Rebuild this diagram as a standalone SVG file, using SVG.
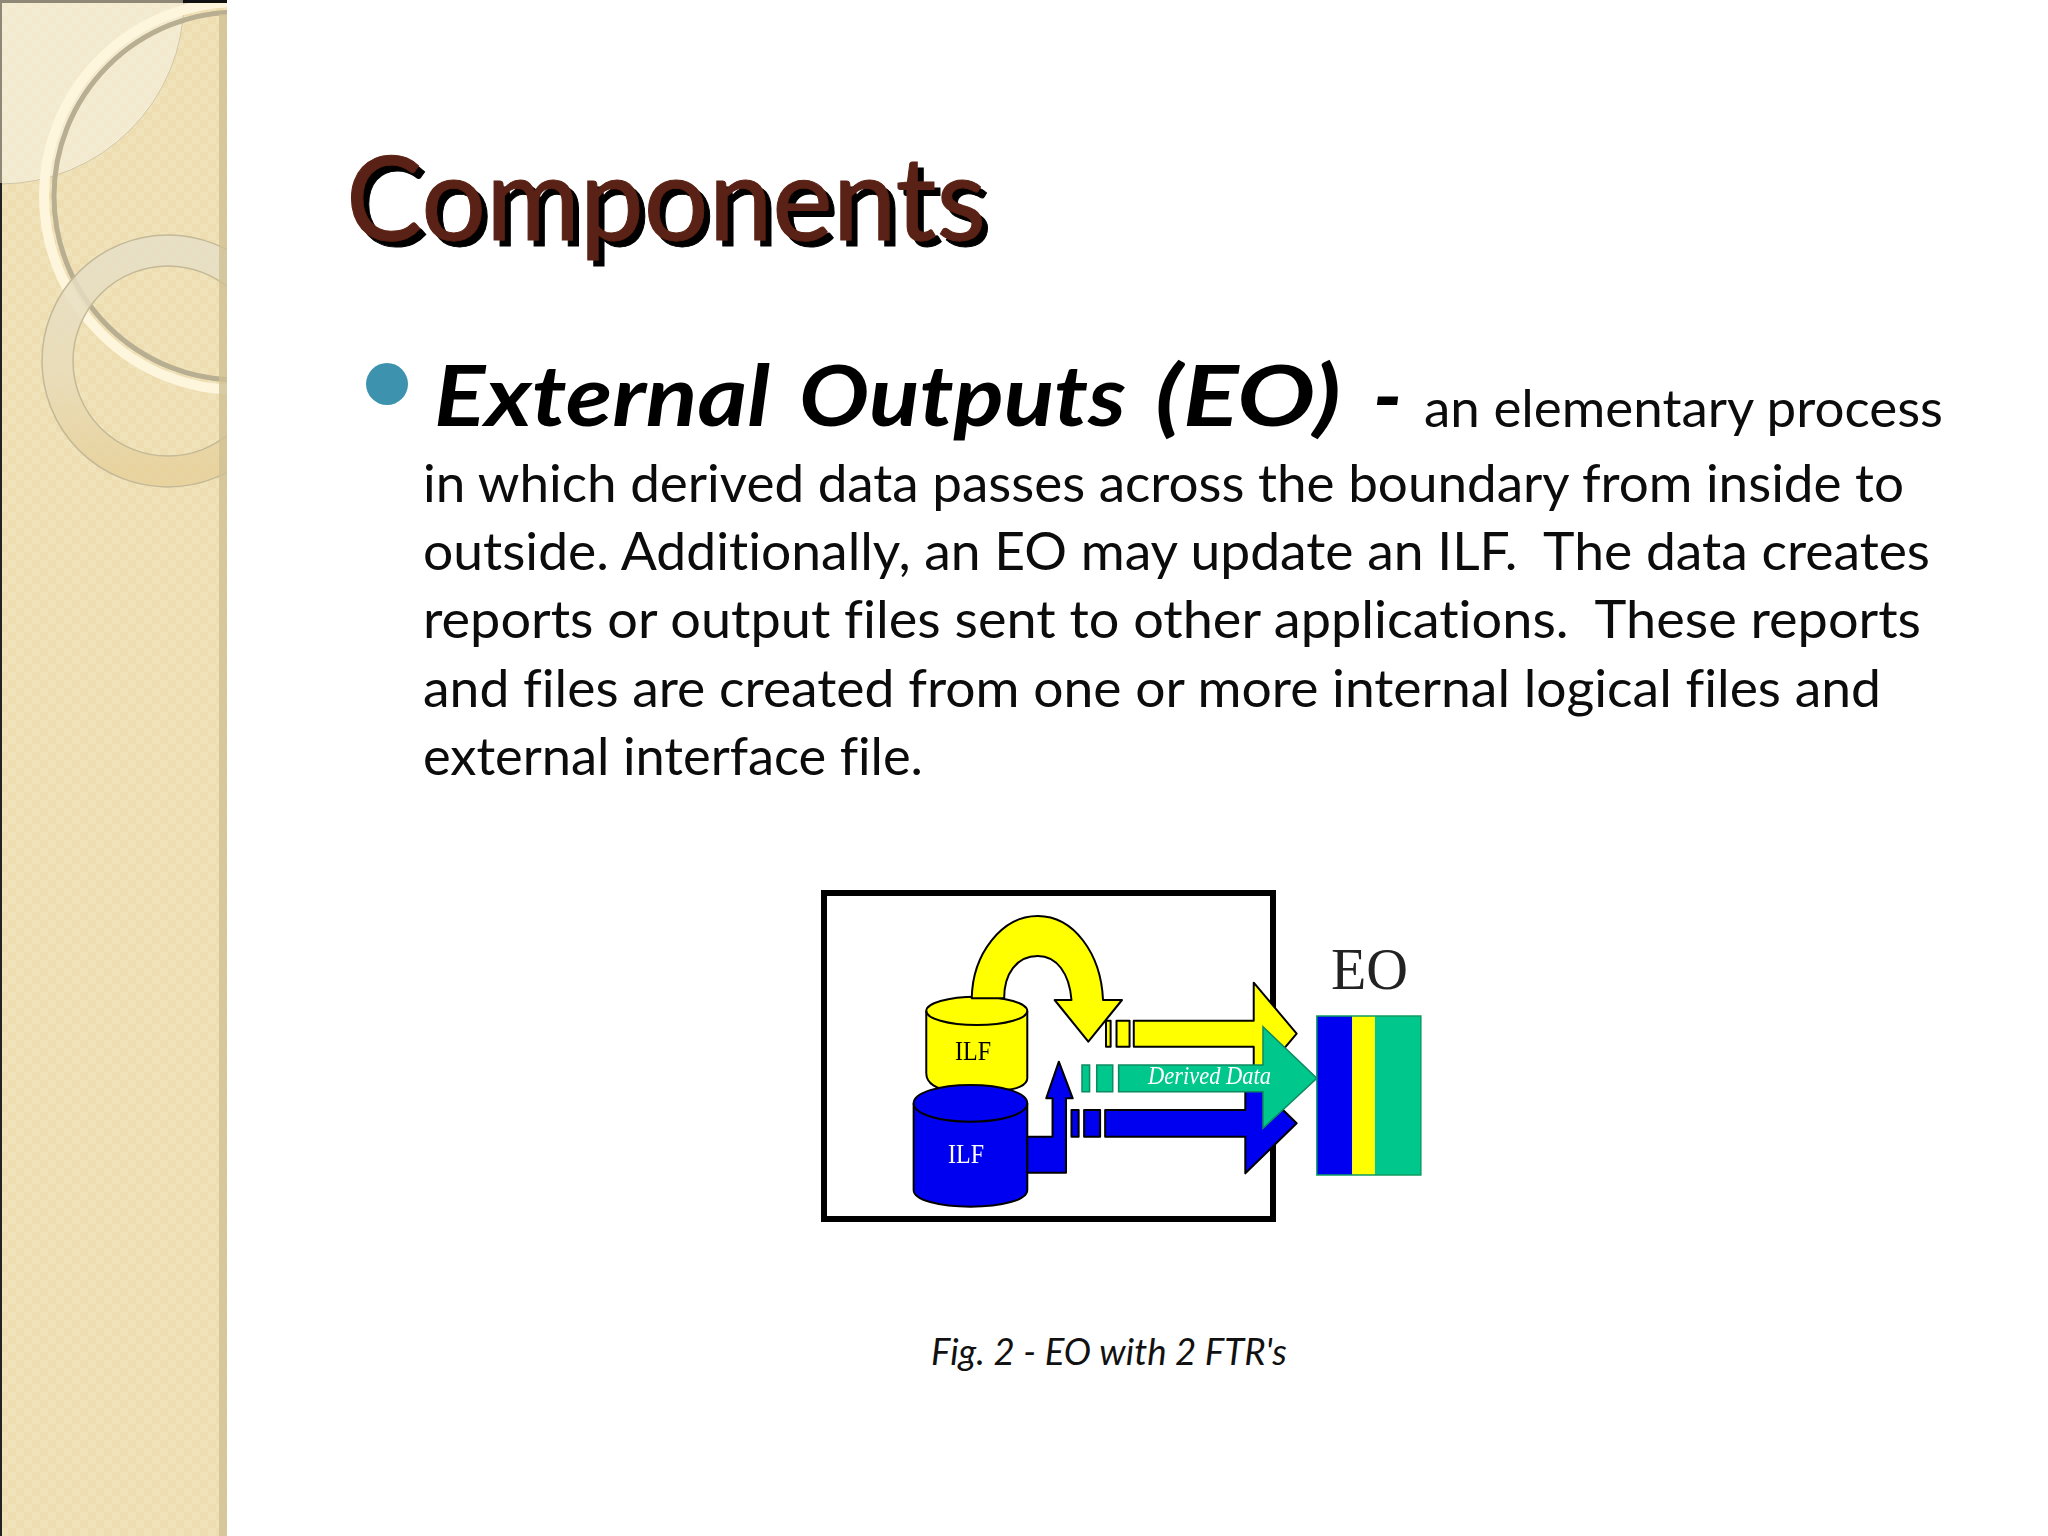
<svg xmlns="http://www.w3.org/2000/svg" width="2048" height="1536" viewBox="0 0 2048 1536">
<style>
.s{stroke:#000;stroke-width:2;vector-effect:non-scaling-stroke;stroke-linejoin:round}
.y{fill:#ffff00}.b{fill:#0000f0}.g{fill:#00c88c}
.nf{fill:none}
.gill{font-family:Lato,"Open Sans","Liberation Sans",sans-serif;font-variant-ligatures:none}
.body{font-size:52px;fill:#0c0c0c}
.head{font-size:84px;font-weight:700;font-style:italic;fill:#000}
.serif{font-family:"Liberation Serif",serif}
</style>
<defs>
<pattern id="chk" width="16" height="16" patternUnits="userSpaceOnUse">
<rect width="16" height="16" fill="#f1e3b9"/>
<rect width="8" height="8" fill="#eeddb0"/><rect x="8" y="8" width="8" height="8" fill="#eeddb0"/>
</pattern>
<linearGradient id="ring" x1="0" y1="0" x2="0" y2="1">
<stop offset="0" stop-color="#e6dfc8"/><stop offset=".55" stop-color="#e8dcba"/><stop offset="1" stop-color="#e6d09a"/>
</linearGradient>
<clipPath id="side"><rect width="227" height="1536"/></clipPath>
<filter id="shadow" x="-5%" y="-20%" width="110%" height="140%"><feDropShadow dx="6" dy="6" stdDeviation="0" flood-color="#000"/></filter>
<filter id="soft" x="-2%" y="-2%" width="104%" height="104%"><feGaussianBlur stdDeviation=".6"/></filter>
</defs>
<rect width="2048" height="1536" fill="#fff"/>
<g id="sidebar">
<rect width="227" height="1536" fill="url(#chk)"/>
<g clip-path="url(#side)" filter="url(#soft)">
<circle cx="0" cy="0" r="184" fill="#f6f1e2" fill-opacity=".6" stroke="#cfc6a8" stroke-width="1"/>
<circle cx="238" cy="196" r="194" fill="none" stroke="#fdf6dc" stroke-width="10"/>
<circle cx="238" cy="196" r="184" fill="none" stroke="#b8ae92" stroke-width="5"/>
<circle cx="168" cy="361" r="110.500" fill="none" stroke="url(#ring)" stroke-width="31" opacity=".82"/>
<circle cx="168" cy="361" r="126" fill="none" stroke="#c4b998" stroke-width="1.500"/>
<circle cx="168" cy="361" r="95" fill="none" stroke="#c4b998" stroke-width="1.500"/>
</g>
<rect x="219" y="14" width="8" height="1522" fill="#cfc194" fill-opacity=".8"/>
<rect x="0" y="0" width="183" height="3" fill="#8f8877"/>
<rect x="183" y="0" width="44" height="3" fill="#111"/>
<rect x="0" y="183" width="2" height="1353" fill="#222"/>
<rect x="0" y="0" width="2" height="183" fill="#8f8877"/>
</g>
<g id="title" class="gill" font-size="116" font-weight="400">
<text x="346" y="240" textLength="640" lengthAdjust="spacingAndGlyphs" fill="#5a2113" stroke="#5a2113" stroke-width="1" filter="url(#shadow)">Components</text>
</g>
<g id="bullet-text" class="gill">
<ellipse cx="387" cy="384" rx="21" ry="21" fill="#3d92ae"/>
<text y="426" class="head" xml:space="preserve"><tspan x="434" textLength="336" lengthAdjust="spacingAndGlyphs">External</tspan> <tspan x="799" textLength="327" lengthAdjust="spacingAndGlyphs">Outputs</tspan> <tspan x="1155" textLength="186" lengthAdjust="spacingAndGlyphs">(EO)</tspan> <tspan x="1373">-</tspan></text>
<text x="1424" y="427" class="body" textLength="519" lengthAdjust="spacingAndGlyphs">an elementary process</text>
<text x="423" y="502" class="body" textLength="1481" lengthAdjust="spacingAndGlyphs">in which derived data passes across the boundary from inside to</text>
<text x="423" y="570" class="body" textLength="1507" lengthAdjust="spacingAndGlyphs" xml:space="preserve">outside. Additionally, an EO may update an ILF.  The data creates</text>
<text x="423" y="638" class="body" textLength="1498" lengthAdjust="spacingAndGlyphs" xml:space="preserve">reports or output files sent to other applications.  These reports</text>
<text x="423" y="707" class="body" textLength="1458" lengthAdjust="spacingAndGlyphs">and files are created from one or more internal logical files and</text>
<text x="423" y="775" class="body" textLength="500" lengthAdjust="spacingAndGlyphs">external interface file.</text>
</g>
<g id="figure" filter="url(#soft)">
<rect id="boundary" x="824" y="893" width="449" height="326" fill="#fff" stroke="#000" stroke-width="6"/>
<g id="connectors" transform="translate(800 870) scale(.4209 .33333)">
<g id="flow-yellow">
<path class="y s" d="M793 452H1078V338L1180 491L1078 644V530H793Z"/>
<rect class="y s" x="727" y="452" width="11" height="78"/>
<rect class="y s" x="752" y="452" width="31" height="78"/>
</g>
<g id="flow-blue">
<path class="b s" d="M725 720H1058V610L1180 760L1058 910V800H725Z"/>
<rect class="b s" x="645" y="720" width="17" height="80"/>
<rect class="b s" x="675" y="720" width="38" height="80"/>
</g>
<g id="flow-green">
<path class="g" d="M757 585H1100V470L1228 625L1100 775V665H757Z" stroke="#0a8a60" stroke-width="1.500" vector-effect="non-scaling-stroke"/>
<rect class="g" x="670" y="585" width="18" height="80" stroke="#0a8a60" stroke-width="1.500" vector-effect="non-scaling-stroke"/>
<rect class="g" x="705" y="585" width="38" height="80" stroke="#0a8a60" stroke-width="1.500" vector-effect="non-scaling-stroke"/>
</g>
</g>
<g id="ilf-yellow">
<g transform="translate(800 870) scale(.4209 .33333)">
<path class="y s" d="M300 423C300 400 350 380 420 380C490 380 540 400 540 423V625C540 645 515 660 480 660H360C325 660 300 640 300 610Z"/>
<path class="nf s" d="M300 423C300 445 350 465 420 465C490 465 540 445 540 423"/>
</g>
<text class="serif" x="955" y="1060" font-size="28" fill="#000" textLength="36" lengthAdjust="spacingAndGlyphs">ILF</text>
</g>
<g id="loop-arrow" transform="translate(800 870) scale(.4209 .33333)">
<path class="y s" d="M408 385C410 250 480 138 565 138C650 138 715 250 720 390H765L685 515L605 390H645C640 310 610 258 565 258C515 258 485 310 485 385Z"/>
</g>
<g id="ilf-blue">
<g transform="translate(800 870) scale(.4209 .33333)">
<path class="b s" d="M270 700C270 668 330 645 405 645C480 645 540 668 540 700V960C540 990 480 1010 405 1010C330 1010 270 990 270 960Z"/>
<path class="nf s" d="M270 700C270 732 330 755 405 755C480 755 540 732 540 700"/>
<path class="b s" d="M540 800H600V685H585L615 575L648 685H632V908H540Z"/>
</g>
<text class="serif" x="948" y="1163" font-size="28" fill="#fff" textLength="36" lengthAdjust="spacingAndGlyphs">ILF</text>
</g>
<text id="derived-label" class="serif" x="1148" y="1084" font-size="25" font-style="italic" fill="#fff" textLength="123" lengthAdjust="spacingAndGlyphs">Derived Data</text>
<g id="eo">
<text class="serif" x="1331" y="989" font-size="60" fill="#222" textLength="77" lengthAdjust="spacingAndGlyphs">EO</text>
<g transform="translate(800 870) scale(.4209 .33333)">
<rect x="1228" y="438" width="84" height="477" class="b"/>
<rect x="1312" y="438" width="54" height="477" class="y"/>
<rect x="1366" y="438" width="109" height="477" class="g"/>
<rect x="1228" y="438" width="247" height="477" fill="none" stroke="#0a9a60" stroke-width="1.500" vector-effect="non-scaling-stroke"/>
</g>
</g>
</g>
<text id="caption" class="gill" x="931" y="1365" font-size="36" font-style="italic" fill="#111" textLength="356" lengthAdjust="spacingAndGlyphs">Fig. 2 - EO with 2 FTR's</text>
</svg>
